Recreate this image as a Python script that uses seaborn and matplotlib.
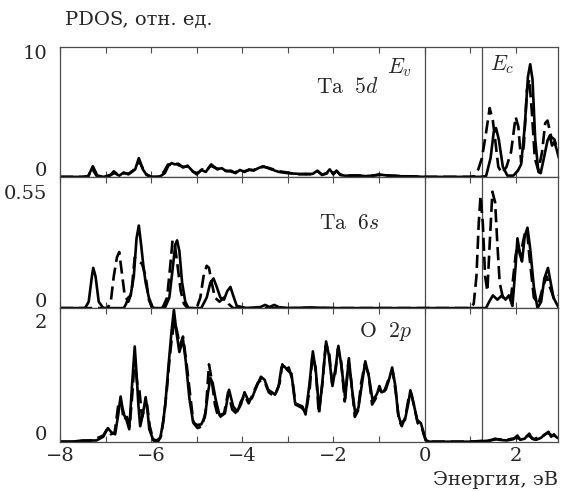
import matplotlib
matplotlib.use("Agg")
import matplotlib.pyplot as plt
import matplotlib.transforms as mtransforms
import seaborn as sns
import pandas as pd

# ---------------- data ----------------
# Ta 5d, solid curve (energy eV, PDOS)
ta5d_solid = [(-8, 0), (-7.5, 0), (-7.38, 0.05), (-7.28, 0.85), (-7.18, 0.1), (-7.05, 0), (-6.9, 0.15),
              (-6.8, 0.3), (-6.7, 0.1), (-6.6, 0.35), (-6.5, 0.2), (-6.42, 0.4), (-6.35, 0.6), (-6.27, 1.5),
              (-6.18, 0.6), (-6.1, 0.15), (-6.0, 0.0), (-5.9, 0.0), (-5.8, 0.05), (-5.7, 0.3), (-5.62, 0.9),
              (-5.55, 1.1), (-5.48, 1.0), (-5.4, 1.05), (-5.3, 0.75), (-5.2, 0.9), (-5.1, 0.5), (-5.0, 0.2),
              (-4.9, 0.55), (-4.8, 0.4), (-4.68, 1.0), (-4.55, 0.6), (-4.45, 0.7), (-4.35, 0.45), (-4.25, 0.5),
              (-4.15, 0.3), (-4.05, 0.55), (-3.95, 0.4), (-3.85, 0.6), (-3.75, 0.5), (-3.65, 0.7), (-3.54, 0.85),
              (-3.4, 0.65), (-3.2, 0.4), (-3.0, 0.3), (-2.8, 0.25), (-2.6, 0.2), (-2.45, 0.25), (-2.35, 0.5),
              (-2.25, 0.15), (-2.15, 0.3), (-2.08, 0.6), (-2.0, 0.2), (-1.93, 0.5), (-1.85, 0.15), (-1.75, 0.1),
              (-1.5, 0.1), (-1.2, 0.05), (-1.0, 0.2), (-0.8, 0.1), (-0.5, 0.05), (-0.2, 0.03), (0.0, 0.0),
              (1.2, 0.0), (1.35, 0.05), (1.45, 1.5), (1.52, 3.6), (1.57, 3.9), (1.63, 3.0), (1.72, 0.8),
              (1.82, 0.1), (1.95, 0.1), (2.05, 0.5), (2.12, 1.0), (2.2, 4.0), (2.27, 8.0), (2.32, 9.0),
              (2.37, 7.8), (2.43, 3.0), (2.5, 0.4), (2.55, 0.3), (2.62, 1.5), (2.7, 2.9), (2.75, 3.3),
              (2.8, 2.5), (2.85, 2.8), (2.9, 2.2), (2.95, 1.5)]
# Ta 5d, dashed curve
ta5d_dashed = [(-8, 0), (-7.5, 0), (-7.38, 0.05), (-7.3, 0.7), (-7.2, 0.1), (-7.05, 0), (-6.9, 0.1),
               (-6.82, 0.45), (-6.72, 0.15), (-6.6, 0.3), (-6.5, 0.25), (-6.4, 0.5), (-6.33, 0.8), (-6.27, 1.3),
               (-6.2, 0.8), (-6.1, 0.2), (-6.0, 0.0), (-5.85, 0.0), (-5.72, 0.4), (-5.63, 1.0), (-5.55, 0.95),
               (-5.47, 1.1), (-5.38, 0.9), (-5.28, 0.8), (-5.18, 0.85), (-5.08, 0.4), (-4.98, 0.3), (-4.88, 0.6),
               (-4.78, 0.5), (-4.7, 0.9), (-4.58, 0.7), (-4.47, 0.6), (-4.37, 0.5), (-4.27, 0.45), (-4.17, 0.35),
               (-4.07, 0.5), (-3.95, 0.45), (-3.85, 0.55), (-3.75, 0.55), (-3.62, 0.75), (-3.52, 0.8), (-3.4, 0.7),
               (-3.2, 0.45), (-3.0, 0.35), (-2.8, 0.2), (-2.6, 0.25), (-2.45, 0.2), (-2.35, 0.45), (-2.25, 0.2),
               (-2.15, 0.25), (-2.08, 0.55), (-2.0, 0.3), (-1.93, 0.45), (-1.85, 0.2), (-1.75, 0.1), (-1.5, 0.12),
               (-1.2, 0.08), (-1.0, 0.15), (-0.8, 0.12), (-0.5, 0.06), (-0.2, 0.03), (0.0, 0.0),
               (1.0, 0.0), (1.1, 0.05), (1.18, 0.6), (1.26, 1.5), (1.35, 3.5), (1.43, 5.5), (1.5, 4.5),
               (1.55, 3.0), (1.62, 0.8), (1.7, 0.3), (1.8, 0.8), (1.9, 2.0), (2.0, 4.8), (2.06, 4.0),
               (2.12, 1.2), (2.18, 2.5), (2.25, 7.0), (2.3, 7.8), (2.36, 5.0), (2.42, 1.5), (2.5, 0.5),
               (2.58, 2.0), (2.65, 4.3), (2.7, 4.5), (2.78, 3.2), (2.85, 3.0), (2.95, 1.8)]

# Ta 6s
ta6s_solid = [(-8, 0), (-7.45, 0), (-7.37, 0.03), (-7.3, 0.15), (-7.27, 0.19), (-7.22, 0.15), (-7.15, 0.03),
              (-7.05, 0), (-6.6, 0.0), (-6.55, 0.02), (-6.5, 0.05), (-6.45, 0.06), (-6.38, 0.15), (-6.32, 0.33),
              (-6.27, 0.39), (-6.22, 0.3), (-6.17, 0.2), (-6.12, 0.12), (-6.05, 0.05), (-5.96, 0), (-5.7, 0),
              (-5.6, 0.05), (-5.52, 0.2), (-5.47, 0.3), (-5.43, 0.32), (-5.38, 0.27), (-5.32, 0.12), (-5.25, 0.03),
              (-5.18, 0), (-4.9, 0), (-4.78, 0.05), (-4.7, 0.12), (-4.63, 0.14), (-4.56, 0.1), (-4.48, 0.05),
              (-4.4, 0.04), (-4.33, 0.08), (-4.26, 0.1), (-4.2, 0.06), (-4.12, 0.01), (-3.9, 0), (-3.6, 0.005),
              (-3.5, 0.015), (-3.4, 0.005), (-3.3, 0.015), (-3.2, 0.005), (-3.0, 0), (-2.5, 0.003), (-2.0, 0),
              (0.0, 0), (1.35, 0), (1.42, 0.03), (1.5, 0.06), (1.6, 0.04), (1.7, 0.06), (1.78, 0.04),
              (1.85, 0.06), (1.93, 0.01), (2.0, 0.2), (2.04, 0.33), (2.1, 0.25), (2.14, 0.22), (2.2, 0.34),
              (2.26, 0.38), (2.32, 0.28), (2.4, 0.1), (2.48, 0.0), (2.56, 0.03), (2.63, 0.14), (2.71, 0.19),
              (2.77, 0.12), (2.83, 0.05), (2.9, 0.02), (2.95, 0.0)]
ta6s_dashed = [(-8, 0), (-6.95, 0), (-6.88, 0.04), (-6.82, 0.15), (-6.75, 0.24), (-6.7, 0.265), (-6.65, 0.18),
               (-6.58, 0.06), (-6.5, 0.03), (-6.45, 0.06), (-6.42, 0.1), (-6.36, 0.24), (-6.28, 0.22),
               (-6.2, 0.21), (-6.12, 0.15), (-6.05, 0.04), (-5.98, 0), (-5.75, 0), (-5.65, 0.05), (-5.58, 0.2),
               (-5.53, 0.32), (-5.48, 0.3), (-5.42, 0.2), (-5.35, 0.08), (-5.28, 0.02), (-5.2, 0), (-5.0, 0),
               (-4.92, 0.05), (-4.85, 0.15), (-4.78, 0.2), (-4.73, 0.19), (-4.67, 0.12), (-4.6, 0.05),
               (-4.5, 0.03), (-4.4, 0.05), (-4.3, 0.02), (-4.2, 0), (0.0, 0), (1.0, 0), (1.08, 0.02),
               (1.14, 0.15), (1.19, 0.4), (1.23, 0.53), (1.28, 0.4), (1.33, 0.15), (1.38, 0.08), (1.43, 0.3),
               (1.49, 0.55), (1.55, 0.5), (1.6, 0.3), (1.65, 0.12), (1.72, 0.05), (1.8, 0.06), (1.9, 0.05),
               (2.0, 0.25), (2.05, 0.3), (2.1, 0.25), (2.2, 0.35), (2.25, 0.37), (2.3, 0.25), (2.4, 0.05),
               (2.5, 0.02), (2.6, 0.1), (2.68, 0.15), (2.75, 0.1), (2.85, 0.04), (2.95, 0.06)]

# O 2p
o2p_solid = [(-8, 0), (-7.75, 0.0), (-7.5, 0.02), (-7.2, 0.02), (-7.05, 0.08), (-6.95, 0.22), (-6.87, 0.15),
             (-6.79, 0.12), (-6.72, 0.45), (-6.67, 0.73), (-6.63, 0.55), (-6.59, 0.43), (-6.54, 0.35),
             (-6.48, 0.2), (-6.42, 0.9), (-6.36, 1.54), (-6.32, 1.1), (-6.28, 0.6), (-6.24, 0.25), (-6.18, 0.45),
             (-6.12, 0.72), (-6.08, 0.5), (-6.04, 0.2), (-5.96, 0.04), (-5.88, 0.02), (-5.8, 0.06), (-5.74, 0.3),
             (-5.69, 0.6), (-5.61, 1.3), (-5.55, 1.8), (-5.5, 2.13), (-5.44, 1.75), (-5.38, 1.45), (-5.3, 1.65),
             (-5.24, 1.3), (-5.16, 0.7), (-5.08, 0.32), (-5.0, 0.27), (-4.9, 0.28), (-4.82, 0.4), (-4.75, 0.8),
             (-4.7, 1.03), (-4.65, 0.95), (-4.58, 0.67), (-4.5, 0.43), (-4.38, 0.46), (-4.29, 0.84), (-4.2, 0.57),
             (-4.11, 0.49), (-4.03, 0.6), (-3.95, 0.8), (-3.87, 0.67), (-3.79, 0.7), (-3.67, 0.92), (-3.59, 1.05),
             (-3.51, 1.0), (-3.43, 0.84), (-3.35, 0.8), (-3.28, 0.76), (-3.2, 0.9), (-3.14, 1.2), (-3.08, 1.22),
             (-3.0, 1.15), (-2.92, 1.1), (-2.84, 0.62), (-2.68, 0.57), (-2.61, 0.44), (-2.53, 0.9), (-2.45, 1.46),
             (-2.38, 1.1), (-2.31, 0.5), (-2.25, 0.9), (-2.16, 1.62), (-2.1, 1.4), (-2.02, 0.9), (-1.95, 1.2),
             (-1.89, 1.55), (-1.82, 1.2), (-1.74, 0.7), (-1.66, 1.35), (-1.6, 0.9), (-1.52, 0.46), (-1.45, 0.55),
             (-1.38, 0.9), (-1.3, 1.3), (-1.22, 1.05), (-1.14, 0.67), (-1.06, 0.75), (-1.0, 0.85), (-0.93, 0.8),
             (-0.85, 0.84), (-0.78, 1.0), (-0.71, 1.2), (-0.64, 0.9), (-0.58, 0.45), (-0.52, 0.3), (-0.43, 0.35),
             (-0.36, 0.6), (-0.31, 0.83), (-0.24, 0.62), (-0.16, 0.35), (-0.08, 0.3), (-0.02, 0.15), (0.02, 0.03),
             (0.1, 0.0), (1.0, 0.0), (1.3, 0.01), (1.45, 0.02), (1.55, 0.05), (1.65, 0.03), (1.8, 0.02),
             (1.95, 0.04), (2.04, 0.1), (2.1, 0.03), (2.2, 0.05), (2.3, 0.13), (2.36, 0.05), (2.45, 0.03),
             (2.55, 0.06), (2.65, 0.12), (2.72, 0.16), (2.78, 0.08), (2.84, 0.12), (2.9, 0.07), (2.95, 0.05)]
o2p_dashed = [(-8, 0), (-7.7, 0.0), (-7.3, 0.02), (-7.05, 0.1), (-6.97, 0.2), (-6.88, 0.12), (-6.8, 0.15),
              (-6.72, 0.6), (-6.66, 0.65), (-6.6, 0.35), (-6.53, 0.4), (-6.47, 0.25), (-6.41, 0.8), (-6.36, 1.35),
              (-6.3, 0.9), (-6.26, 0.85), (-6.2, 0.4), (-6.14, 0.55), (-6.09, 0.6), (-6.03, 0.25), (-5.95, 0.02),
              (-5.85, 0.0), (-5.78, 0.1), (-5.72, 0.4), (-5.66, 0.8), (-5.6, 1.3), (-5.55, 1.65), (-5.49, 1.95),
              (-5.43, 1.78), (-5.37, 1.55), (-5.3, 1.7), (-5.22, 1.25), (-5.15, 0.8), (-5.07, 0.3), (-4.98, 0.22),
              (-4.88, 0.25), (-4.8, 0.5), (-4.73, 1.25), (-4.67, 1.0), (-4.6, 0.6), (-4.52, 0.38), (-4.4, 0.45),
              (-4.31, 0.8), (-4.22, 0.52), (-4.12, 0.45), (-4.03, 0.65), (-3.95, 0.75), (-3.86, 0.62),
              (-3.78, 0.75), (-3.66, 0.95), (-3.58, 1.0), (-3.5, 0.95), (-3.42, 0.8), (-3.33, 0.75), (-3.26, 0.78),
              (-3.18, 0.95), (-3.12, 1.25), (-3.06, 1.15), (-2.98, 1.2), (-2.9, 1.0), (-2.83, 0.6), (-2.7, 0.55),
              (-2.6, 0.48), (-2.52, 0.85), (-2.46, 1.4), (-2.39, 1.2), (-2.32, 0.45), (-2.24, 0.95), (-2.17, 1.55),
              (-2.1, 1.5), (-2.03, 0.95), (-1.96, 1.1), (-1.9, 1.5), (-1.83, 1.3), (-1.75, 0.65), (-1.67, 1.3),
              (-1.61, 1.0), (-1.53, 0.4), (-1.46, 0.5), (-1.39, 0.95), (-1.31, 1.25), (-1.23, 1.1), (-1.15, 0.6),
              (-1.07, 0.7), (-0.99, 0.9), (-0.92, 0.75), (-0.84, 0.9), (-0.77, 1.05), (-0.7, 1.15), (-0.63, 0.8),
              (-0.56, 0.35), (-0.5, 0.25), (-0.42, 0.4), (-0.35, 0.7), (-0.29, 0.78), (-0.22, 0.55), (-0.15, 0.3),
              (-0.07, 0.25), (-0.01, 0.1), (0.05, 0.0), (1.0, 0.0), (1.4, 0.02), (1.6, 0.04), (1.8, 0.03),
              (2.0, 0.06), (2.1, 0.05), (2.28, 0.1), (2.4, 0.04), (2.6, 0.1), (2.7, 0.14), (2.8, 0.1), (2.95, 0.08)]

panel_names = [r"$\mathrm{Ta}\ \ 5d$", r"$\mathrm{Ta}\ \ 6s$", r"$\mathrm{O}\ \ 2p$"]
panel_ymax_label = ["10", "0.55", "2"]
panel_ymax_value = [10, 0.55, 2]
panel_ylim_top = [10.4, 0.62, 2.16]
x_ticklabels = {-8: "\u22128", -6: "\u22126", -4: "\u22124", -2: "\u22122", 0: "0", 2: "2"}
E_v, E_c = 0.0, 1.27

# ---------------- style ----------------
sns.set_theme(style="white")
plt.rcParams["font.family"] = ["DejaVu Serif"]
plt.rcParams["mathtext.fontset"] = "cm"

SPINE = "#4a4a4a"
fig = plt.figure(figsize=(5.63, 4.91), dpi=100)
gs = fig.add_gridspec(3, 1, left=60 / 563, right=558 / 563, top=1 - 46.7 / 491, bottom=1 - 441.7 / 491,
                      hspace=0, height_ratios=[130, 131, 133.4])
axes = [fig.add_subplot(gs[i]) for i in range(3)]

series = [(ta5d_solid, ta5d_dashed), (ta6s_solid, ta6s_dashed), (o2p_solid, o2p_dashed)]

for i, ax in enumerate(axes):
    solid, dashed = series[i]
    ds = pd.DataFrame(solid, columns=["E", "PDOS"])
    dd = pd.DataFrame(dashed, columns=["E", "PDOS"])
    sns.lineplot(data=dd, x="E", y="PDOS", ax=ax, color="black", lw=1.9, sort=False, estimator=None,
                 linestyle=(0, (5, 2.2)))
    sns.lineplot(data=ds, x="E", y="PDOS", ax=ax, color="black", lw=1.9, sort=False, estimator=None)
    ax.axvline(E_v, color=SPINE, lw=0.9, zorder=1)
    ax.axvline(E_c, color=SPINE, lw=0.9, zorder=1)
    ax.set_xlim(-8, 2.93)
    ax.set_ylim(0, panel_ylim_top[i])
    ax.set_xlabel("")
    ax.set_ylabel("")
    for s in ax.spines.values():
        s.set_color(SPINE)
        s.set_linewidth(0.9)
        s.set_visible(True)
    ax.set_xticks(range(-8, 3))
    if i == 2:
        ax.set_xticklabels([x_ticklabels.get(v, "") for v in range(-8, 3)])
    else:
        ax.set_xticklabels([])
    ax.tick_params(axis="x", direction="in", top=True, bottom=True, length=4, width=0.8,
                   color=SPINE, labelsize=14, pad=4)
    ax.set_yticks([0, panel_ymax_value[i]])
    ax.set_yticklabels(["0", panel_ymax_label[i]])
    ax.tick_params(axis="y", length=0, labelsize=14, pad=9)
    lbls = ax.get_yticklabels()
    lbls[0].set_transform(lbls[0].get_transform() + mtransforms.ScaledTranslation(0, 6 / 72, fig.dpi_scale_trans))
    if i == 2:
        lbls[1].set_transform(lbls[1].get_transform() + mtransforms.ScaledTranslation(0, -2 / 72, fig.dpi_scale_trans))
    ax.grid(False)

axes[0].text(-1.69, 7.2, panel_names[0], fontsize=15.5, ha="center", va="center")
axes[0].text(-0.55, 8.75, r"$E_v$", fontsize=15.5, ha="center", va="center")
axes[0].text(1.7, 9.0, r"$E_c$", fontsize=15.5, ha="center", va="center")
axes[1].text(-1.64, 0.40, panel_names[1], fontsize=15.5, ha="center", va="center")
axes[2].text(-0.85, 1.78, panel_names[2], fontsize=15.5, ha="center", va="center")

fig.text(65 / 563, 1 - 20 / 491, "PDOS, отн. ед.", fontsize=14, ha="left", va="center")
fig.text(558 / 563, 1 - 480 / 491, "Энергия, эВ", fontsize=14, ha="right", va="center")

fig.savefig("out.png", dpi=100)
